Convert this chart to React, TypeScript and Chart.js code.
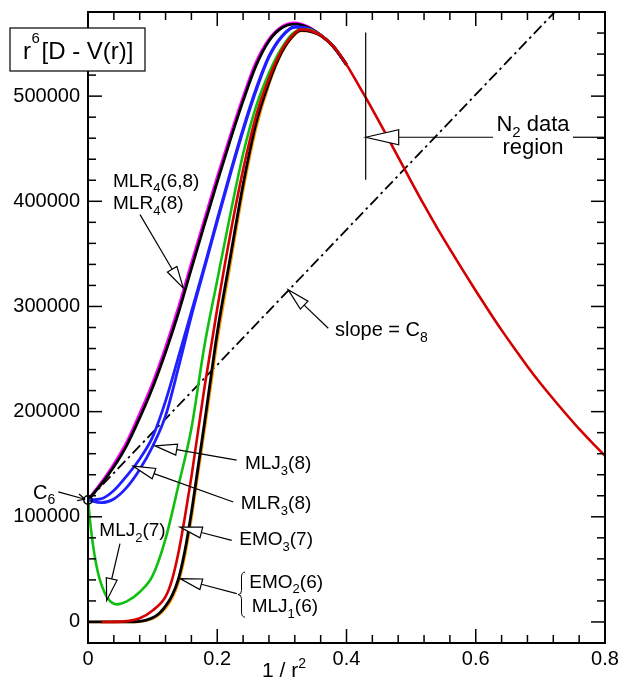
import React, { useEffect, useRef } from 'react';
import { Chart, registerables } from 'chart.js';

Chart.register(...registerables);

// ---------------- data ----------------
const X_MAIN = [0, 0.02, 0.04, 0.06, 0.08, 0.10, 0.12, 0.14, 0.16, 0.18, 0.20, 0.22, 0.24, 0.26, 0.28, 0.30, 0.32, 0.34, 0.36, 0.38, 0.40];
const MLR4_68 = [116000, 132000, 150000, 171000, 198000, 227000, 261000, 299000, 341000, 382000, 423000, 462000, 499000, 532000, 554000, 566000, 569500, 566000, 558000, 547000, 530000];
const MLR4_8 = [116000, 130500, 147500, 168000, 194000, 223000, 256500, 294000, 336000, 377500, 418500, 458000, 495500, 529000, 552500, 565000, 568500, 565500, 558000, 547000, 530000];
const MLJ3_8 = [116000, 117000, 125000, 139000, 155000, 176000, 210000, 252000, 295000, 338000, 383000, 427000, 469000, 507000, 538000, 557000, 566000, 564500, 558000, 547000, 530000];
const MLR3_8 = [116000, 113500, 117000, 128000, 145000, 167000, 196000, 242000, 291000, 336000, 381000, 425000, 467000, 505000, 537000, 556500, 565500, 564500, 558000, 547000, 530000];

const X_MLJ2 = [0, 0.005, 0.01, 0.015, 0.02, 0.03, 0.045, 0.06, 0.08, 0.10, 0.12, 0.14, 0.16, 0.18, 0.20, 0.22, 0.24, 0.26, 0.28, 0.30, 0.32, 0.34, 0.36, 0.38, 0.40];
const MLJ2_7 = [116000, 86000, 64000, 48000, 37000, 23000, 16700, 19500, 28500, 44000, 79000, 130000, 184000, 262000, 325000, 387000, 445000, 490000, 522000, 546000, 561000, 563500, 558000, 547000, 530000];

const X_EMO3 = [0.02, 0.04, 0.06, 0.08, 0.10, 0.12, 0.13, 0.14, 0.15, 0.16, 0.18, 0.20, 0.22, 0.24, 0.26, 0.28, 0.30, 0.32, 0.33, 0.34, 0.36, 0.38, 0.40, 0.42, 0.44, 0.46, 0.48, 0.50, 0.52, 0.54, 0.56, 0.58, 0.60, 0.62, 0.64, 0.66, 0.68, 0.70, 0.72, 0.74, 0.76, 0.78, 0.80];
const EMO3_7 = [0, 100, 800, 3500, 11000, 24000, 40000, 66000, 100000, 138000, 222000, 298000, 368000, 430000, 481000, 517000, 544000, 560000, 563500, 563000, 558000, 547000, 530000, 509000, 487500, 465000, 442000, 419000, 396500, 375000, 354500, 334500, 315000, 296000, 277500, 260000, 243000, 227000, 212000, 197500, 183500, 170500, 158000];

const X_EMO2 = [0, 0.04, 0.06, 0.08, 0.09, 0.10, 0.11, 0.12, 0.13, 0.14, 0.15, 0.16, 0.17, 0.18, 0.19, 0.20, 0.22, 0.24, 0.26, 0.28, 0.30, 0.32, 0.33, 0.34, 0.36, 0.38, 0.40];
const EMO2_6 = [0, 0, 0, 500, 1800, 4000, 8000, 15000, 25000, 41000, 68000, 104000, 146000, 188000, 232000, 275000, 346000, 416000, 474000, 513000, 542000, 559000, 562500, 562000, 557500, 547000, 530000];
const MLJ1_6 = [0, 0, 0, 300, 1300, 3200, 6800, 13000, 22500, 37500, 63000, 98000, 140000, 181000, 224000, 267000, 339000, 410000, 469000, 511000, 541500, 558500, 562000, 562000, 557500, 547000, 530000];

const X_C8 = [0, 0.8];
const C8_LINE = [116000, 630000];
const X_C6 = [0];
const C6_VALUE = [116000];

const X_TICKS = [0, 0.2, 0.4, 0.6, 0.8];
const X_TICK_LABELS = ['0', '0.2', '0.4', '0.6', '0.8'];
const Y_TICKS = [0, 100000, 200000, 300000, 400000, 500000];
const Y_TICK_LABELS = ['0', '100000', '200000', '300000', '400000', '500000'];

// ---------------- annotations (data coordinates) ----------------
type Part = [string, number];
const LABELS: { x: number; y: number; parts: Part[]; align?: string; size?: number }[] = [
  { x: 0.0387, y: 413900, parts: [['MLR', 0], ['4', 1], ['(6,8)', 0]] },
  { x: 0.0387, y: 392500, parts: [['MLR', 0], ['4', 1], ['(8)', 0]] },
  { x: 0.3822, y: 272000, parts: [['slope = C', 0], ['8', 1]], size: 20 },
  { x: 0.6886, y: 466600, parts: [['N', 0], ['2', 1], [' data', 0]], align: 'center', size: 22 },
  { x: 0.6886, y: 445400, parts: [['region', 0]], align: 'center', size: 22 },
  { x: 0.2429, y: 145000, parts: [['MLJ', 0], ['3', 1], ['(8)', 0]] },
  { x: 0.2363, y: 107200, parts: [['MLR', 0], ['3', 1], ['(8)', 0]] },
  { x: 0.2341, y: 72900, parts: [['EMO', 0], ['3', 1], ['(7)', 0]] },
  { x: 0.2496, y: 32600, parts: [['EMO', 0], ['2', 1], ['(6)', 0]] },
  { x: 0.2533, y: 9300, parts: [['MLJ', 0], ['1', 1], ['(6)', 0]] },
  { x: 0.0175, y: 81500, parts: [['MLJ', 0], ['2', 1], ['(7)', 0]] },
  { x: -0.0851, y: 117400, parts: [['C', 0], ['6', 1]], size: 20 },
];
const ARROWS: { from: [number, number]; to: [number, number] }[] = [
  { from: [0.0805, 387300], to: [0.1475, 317400] },
  { from: [0.3718, 279300], to: [0.3099, 315800] },
  { from: [0.2301, 153900], to: [0.1037, 167500] },
  { from: [0.2248, 114100], to: [0.0701, 148100] },
  { from: [0.2224, 77600], to: [0.1424, 90300] },
  { from: [0.2301, 26900], to: [0.1424, 41200] },
  { from: [0.0495, 74500], to: [0.0289, 20500] },
];
const N2_X = 0.4297;
const N2_Y_TOP = 560400;
const N2_Y_BOT = 420600;
const N2_ARROW_Y = 460900;
const N2_GAP = [0.6267, 0.7505];
const C6_ARROW = { from: [-0.046, 123700], to: [-0.0046, 116700] };
const BRACE = { x: 0.2321, yTop: 47400, yBot: 4600 };

const FONT = '"Liberation Sans", Arial, Helvetica, sans-serif';

const pts = (xs: number[], ys: number[]) => xs.map((x, i) => ({ x, y: ys[i] }));

function rich(ctx: CanvasRenderingContext2D, x: number, y: number, parts: Part[], size: number, align = 'left') {
  const sub = Math.round(size * 0.68);
  const widths = parts.map(([t, k]) => {
    ctx.font = `${k ? sub : size}px ${FONT}`;
    return ctx.measureText(t).width;
  });
  const total = widths.reduce((a, b) => a + b, 0);
  let cx = align === 'center' ? x - total / 2 : align === 'right' ? x - total : x;
  ctx.textAlign = 'left';
  ctx.textBaseline = 'alphabetic';
  ctx.fillStyle = '#000';
  parts.forEach(([t, k], i) => {
    ctx.font = `${k ? sub : size}px ${FONT}`;
    const dy = k === 1 ? size * 0.28 : k === 2 ? -size * 0.45 : 0;
    ctx.fillText(t, cx, y + dy);
    cx += widths[i];
  });
}

function arrow(ctx: CanvasRenderingContext2D, x1: number, y1: number, x2: number, y2: number, len: number, half: number) {
  const dx = x2 - x1, dy = y2 - y1;
  const d = Math.hypot(dx, dy);
  const ux = dx / d, uy = dy / d;
  const bx = x2 - ux * len, by = y2 - uy * len;
  ctx.beginPath();
  ctx.moveTo(x1, y1);
  ctx.lineTo(bx, by);
  ctx.stroke();
  ctx.beginPath();
  ctx.moveTo(x2, y2);
  ctx.lineTo(bx - uy * half, by + ux * half);
  ctx.lineTo(bx + uy * half, by - ux * half);
  ctx.closePath();
  ctx.fillStyle = '#fff';
  ctx.fill();
  ctx.stroke();
}

const decor = {
  id: 'decor',
  afterDraw(chart: any) {
    const ctx: CanvasRenderingContext2D = chart.ctx;
    const xs = chart.scales.x, ys = chart.scales.y;
    const px = (v: number) => xs.getPixelForValue(v);
    const py = (v: number) => ys.getPixelForValue(v);
    const { left, right, top, bottom } = chart.chartArea;
    ctx.save();
    ctx.strokeStyle = '#000';
    // ticks
    ctx.lineWidth = 1.5;
    const seg = (a: number, b: number, c: number, d: number) => { ctx.beginPath(); ctx.moveTo(a, b); ctx.lineTo(c, d); ctx.stroke(); };
    for (let i = 0; i <= 20; i++) {
      const v = i * 0.04;
      const p = px(v);
      const L = i % 5 === 0 ? 14 : 8;
      seg(p, bottom, p, bottom - L);
      seg(p, top, p, top + L);
    }
    for (let i = 0; i <= 30; i++) {
      const v = -20000 + i * 20000;
      const p = py(v);
      const L = (i - 1) % 5 === 0 ? 14 : 8;
      seg(left, p, left + L, p);
      seg(right, p, right - L, p);
    }
    // frame
    ctx.lineWidth = 2;
    ctx.strokeRect(left, top, right - left, bottom - top);

    // annotation lines & arrows
    ctx.lineWidth = 1.2;
    ARROWS.forEach(a => arrow(ctx, px(a.from[0]), py(a.from[1]), px(a.to[0]), py(a.to[1]), 22, 5.5));
    // N2 region
    seg(px(N2_X), py(N2_Y_TOP), px(N2_X), py(N2_Y_BOT));
    arrow(ctx, px(N2_GAP[0]), py(N2_ARROW_Y), px(N2_X), py(N2_ARROW_Y), 33, 7.5);
    seg(px(N2_GAP[1]), py(N2_ARROW_Y), right, py(N2_ARROW_Y));
    // C6 arrow (open head)
    {
      const x1 = px(C6_ARROW.from[0]), y1 = py(C6_ARROW.from[1]);
      const x2 = px(C6_ARROW.to[0]), y2 = py(C6_ARROW.to[1]);
      seg(x1, y1, x2, y2);
      const ang = Math.atan2(y2 - y1, x2 - x1);
      const h = 8;
      seg(x2, y2, x2 - h * Math.cos(ang - 0.45), y2 - h * Math.sin(ang - 0.45));
      seg(x2, y2, x2 - h * Math.cos(ang + 0.45), y2 - h * Math.sin(ang + 0.45));
    }
    // brace
    {
      const xl = px(BRACE.x), t = py(BRACE.yTop), b = py(BRACE.yBot);
      const mid = (t + b) / 2, xm = xl + 3.5, xr = xl + 7;
      ctx.lineWidth = 1;
      ctx.beginPath();
      ctx.moveTo(xr, t);
      ctx.quadraticCurveTo(xm, t, xm, t + 5);
      ctx.lineTo(xm, mid - 4);
      ctx.quadraticCurveTo(xm, mid, xl, mid);
      ctx.quadraticCurveTo(xm, mid, xm, mid + 4);
      ctx.lineTo(xm, b - 5);
      ctx.quadraticCurveTo(xm, b, xr, b);
      ctx.stroke();
    }
    // labels
    LABELS.forEach(l => rich(ctx, px(l.x), py(l.y), l.parts, l.size || 19, l.align || 'left'));

    // x-axis title
    rich(ctx, 262, 677, [['1 / r', 0], ['2', 2]], 21);

    // y-axis title box
    ctx.fillStyle = '#fff';
    ctx.fillRect(10, 28, 135, 43);
    ctx.lineWidth = 1.2;
    ctx.strokeRect(10, 28, 135, 43);
    ctx.fillStyle = '#000';
    ctx.font = `24px ${FONT}`;
    ctx.fillText('r', 23, 59);
    ctx.font = `15px ${FONT}`;
    ctx.fillText('6', 31.5, 43);
    ctx.font = `24px ${FONT}`;
    ctx.fillText('[D - V(r)]', 41.5, 59);
    ctx.restore();
  },
};

export default function App() {
  const ref = useRef<HTMLCanvasElement>(null);
  useEffect(() => {
    Chart.defaults.font.family = FONT;
    Chart.defaults.color = '#000';
    const line = (label: string, data: any[], color: string, width: number, order: number, extra: any = {}) => ({
      label, data, borderColor: color, backgroundColor: color, borderWidth: width, order,
      showLine: true, pointRadius: 0, cubicInterpolationMode: 'monotone', ...extra,
    });
    const chart = new Chart(ref.current!, {
      type: 'scatter',
      data: {
        datasets: [
          { label: 'C6', data: pts(X_C6, C6_VALUE), pointRadius: 4.2, borderWidth: 1.5, borderColor: '#000', backgroundColor: 'rgba(0,0,0,0)', order: 0, clip: false } as any,
          line('EMO3(7)', pts(X_EMO3, EMO3_7), '#d40000', 2.6, 1),
          line('EMO2(6)', pts(X_EMO2, EMO2_6), '#000000', 2.8, 2),
          line('MLJ1(6)', pts(X_EMO2, MLJ1_6), '#ff9a00', 2.6, 3),
          line('MLJ2(7)', pts(X_MLJ2, MLJ2_7), '#10c010', 2.6, 4),
          line('MLJ3(8)', pts(X_MAIN, MLJ3_8), '#2020ff', 2.8, 5),
          line('MLR3(8)', pts(X_MAIN, MLR3_8), '#2020ff', 2.8, 6),
          line('MLR4(8)', pts(X_MAIN, MLR4_8), '#000000', 2.8, 7),
          line('MLR4(6,8)', pts(X_MAIN, MLR4_68), '#ff00ff', 3, 8),
          line('slope C8', pts(X_C8, C8_LINE), '#000000', 1.8, 9, { borderDash: [11, 4, 2.5, 4], cubicInterpolationMode: 'default', tension: 0 }),
        ],
      },
      options: {
        responsive: false,
        animation: false,
        events: [],
        layout: { padding: { left: 0, right: 16, top: 12, bottom: 0 } },
        plugins: { legend: { display: false }, tooltip: { enabled: false } },
        scales: {
          x: {
            type: 'linear', min: 0, max: 0.8,
            grid: { display: false, drawTicks: false },
            border: { display: false },
            ticks: { padding: 4, font: { size: 20 }, color: '#000', callback: (_v: any, i: number) => X_TICK_LABELS[i] },
            afterBuildTicks: (s: any) => { s.ticks = X_TICKS.map(v => ({ value: v })); },
            afterFit: (s: any) => { s.height = 36; s.paddingLeft = 0; s.paddingRight = 0; },
          },
          y: {
            type: 'linear', min: -20000, max: 580000,
            grid: { display: false, drawTicks: false },
            border: { display: false },
            ticks: { padding: 8, font: { size: 20 }, color: '#000', callback: (_v: any, i: number) => Y_TICK_LABELS[i] },
            afterBuildTicks: (s: any) => { s.ticks = Y_TICKS.map(v => ({ value: v })); },
            afterFit: (s: any) => { s.width = 88; s.paddingTop = 0; s.paddingBottom = 0; },
          },
        },
      } as any,
      plugins: [decor],
    });
    return () => chart.destroy();
  }, []);
  return (
    <div style={{ position: 'absolute', left: 0, top: 0, width: 621, height: 679, background: '#fff' }}>
      <canvas ref={ref} width={621} height={679} style={{ display: 'block' }} />
    </div>
  );
}
